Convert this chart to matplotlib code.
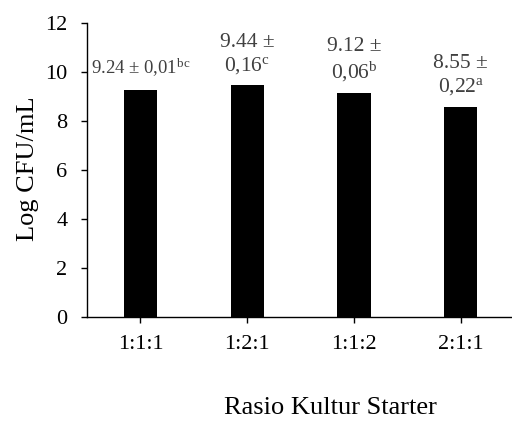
import matplotlib
matplotlib.use("Agg")
import matplotlib.pyplot as plt

plt.rcParams["font.family"] = ["Liberation Serif", "DejaVu Serif"]
plt.rcParams["mathtext.fontset"] = "custom"
plt.rcParams["mathtext.rm"] = "Liberation Serif"
plt.rcParams["mathtext.it"] = "Liberation Serif:italic"

ratios = ["1:1:1", "1:2:1", "1:1:2", "2:1:1"]
log_cfu = [9.24, 9.44, 9.12, 8.55]
labels = [
    "9.24 ± 0,01$^{\\mathrm{bc}}$",
    "9.44 ±\n0,16$^{\\mathrm{c}}$",
    "9.12 ±\n0,06$^{\\mathrm{b}}$",
    "8.55 ±\n0,22$^{\\mathrm{a}}$",
]
yticks = [0, 2, 4, 6, 8, 10, 12]

fig = plt.figure(figsize=(5.12, 4.21), dpi=100)
ax = fig.add_axes([0.170, 0.248, 0.830, 0.698])

x = range(len(ratios))
ax.bar(x, log_cfu, width=0.31, color="black")
for xi, v, lab in zip(x, log_cfu, labels):
    one_line = "\n" not in lab
    ax.annotate(lab, (xi, v), xytext=(0, 8 if one_line else 7),
                textcoords="offset points", ha="center", va="bottom",
                fontsize=13.5 if one_line else 15.5, color="#404040",
                linespacing=1.2)

ax.set_xlim(-0.5, 3.48)
ax.set_ylim(0, 12)
ax.set_yticks(yticks)
ax.set_xticks(list(x))
ax.set_xticklabels(ratios)
ax.tick_params(axis="both", labelsize=16, length=4, width=1, pad=9)
ax.tick_params(axis="y", pad=10)
for side in ("top", "right"):
    ax.spines[side].set_visible(False)
for side in ("left", "bottom"):
    ax.spines[side].set_linewidth(1)

fig.text(28 / 512, 0.60, "Log CFU/mL", rotation=90, ha="center", va="center", fontsize=19)
fig.text(0.645, 0.03, "Rasio Kultur Starter", ha="center", va="center", fontsize=19)

fig.savefig("out.png", dpi=100)
